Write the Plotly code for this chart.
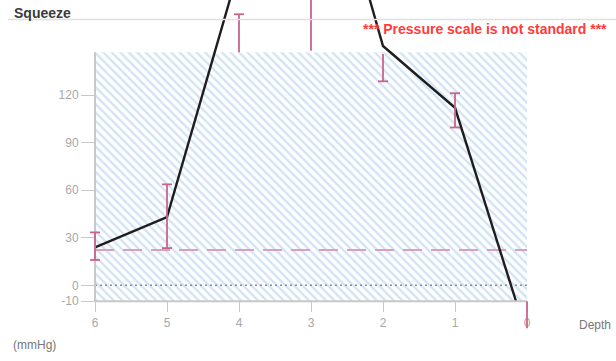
import plotly.graph_objects as go

# ---- data ----
depth = [6, 5, 4, 3, 2, 1, 0]
squeeze = [24, 43, 200, 310, 151, 112, -32]
range_low = [16, 23.5, 147, 148, 128.7, 99.6, -27]
range_high = [33.4, 63.7, 171, 200, 146, 121.2, -10]
cap_low = [True, True, False, False, True, True, False]
cap_high = [True, True, True, False, False, True, False]
threshold = 22.3
band_bottom = -10
band_top = 147
y_tickvals = [-10, 0, 30, 60, 90, 120]
x_tickvals = [6, 5, 4, 3, 2, 1, 0]

# ---- geometry (pixel calibration) ----
W, H = 616, 361
x6_px = 95.0
px_per_depth = 72.0
y0_px = 291.0
px_per_unit = 1.6167

x_range = [6 + x6_px / px_per_depth, 6 - (W - x6_px) / px_per_depth]
y2_range = [-(H - y0_px) / px_per_unit, y0_px / px_per_unit]
ybot_px = y0_px - band_bottom * px_per_unit
y_dom_bottom = (H - ybot_px) / H
y_range = [band_bottom, y0_px / px_per_unit]
cap_half = 5.0 / px_per_depth

fig = go.Figure()

# hatched normal band
fig.add_trace(go.Scatter(
    x=[depth[0], depth[-1], depth[-1], depth[0]],
    y=[band_bottom, band_bottom, band_top, band_top],
    mode="none", fill="toself", fillcolor="white",
    fillpattern=dict(shape="\\", fgcolor="#a6c8ea", bgcolor="white", size=6, solidity=0.4),
    hoverinfo="skip", showlegend=False, xaxis="x", yaxis="y"))

# dotted zero line
fig.add_trace(go.Scatter(
    x=[depth[0], depth[-1]], y=[0, 0], mode="lines",
    line=dict(color="#8c8c8c", width=1.5, dash="2px,3px"),
    hoverinfo="skip", showlegend=False, xaxis="x", yaxis="y"))

# dashed threshold
fig.add_trace(go.Scatter(
    x=[depth[0], depth[-1]], y=[threshold, threshold], mode="lines",
    line=dict(color="#d9a0c4", width=1.8, dash="19px,9px"),
    hoverinfo="skip", showlegend=False, xaxis="x", yaxis="y"))

# main squeeze line
fig.add_trace(go.Scatter(
    x=depth, y=squeeze, mode="lines",
    line=dict(color="#1e1e1e", width=2.4),
    hoverinfo="skip", showlegend=False, xaxis="x", yaxis="y"))

# axis lines (unclipped overlay subplot)
fig.add_trace(go.Scatter(
    x=[depth[0], depth[0], None, depth[0], depth[-1]],
    y=[band_top, band_bottom, None, band_bottom, band_bottom], mode="lines",
    line=dict(color="#c8c8c8", width=2),
    hoverinfo="skip", showlegend=False, xaxis="x2", yaxis="y2"))

# range bars
sx, sy = [], []
for d, lo, hi, cl, ch in zip(depth, range_low, range_high, cap_low, cap_high):
    sx += [d, d, None]
    sy += [lo, hi, None]
    if cl:
        sx += [d - cap_half, d + cap_half, None]
        sy += [lo, lo, None]
    if ch:
        sx += [d - cap_half, d + cap_half, None]
        sy += [hi, hi, None]
fig.add_trace(go.Scatter(
    x=sx, y=sy, mode="lines",
    line=dict(color="#c8648f", width=1.8),
    hoverinfo="skip", showlegend=False, xaxis="x2", yaxis="y2"))

tickfont = dict(family="Liberation Sans, Arial, sans-serif", size=12, color="#a8a8a8")

fig.update_layout(
    width=W, height=H, autosize=False,
    margin=dict(l=0, r=0, t=0, b=0),
    paper_bgcolor="white", plot_bgcolor="rgba(0,0,0,0)",
    font=dict(family="Liberation Sans, Arial, sans-serif"),
    xaxis=dict(domain=[0, 1], range=x_range, anchor="y", showgrid=False, zeroline=False,
               showline=False, ticks="outside", ticklen=10, tickwidth=1.2, tickcolor="#c8c8c8",
               tickvals=x_tickvals, ticktext=[str(v) for v in x_tickvals], tickfont=tickfont),
    yaxis=dict(domain=[y_dom_bottom, 1], range=y_range, anchor="free", position=x6_px / W,
               showgrid=False, zeroline=False, showline=False, ticks="outside", ticklen=14,
               tickwidth=1.2, tickcolor="#c8c8c8", tickvals=y_tickvals,
               ticktext=[str(v) for v in y_tickvals], tickfont=tickfont),
    xaxis2=dict(domain=[0, 1], range=x_range, anchor="y2", visible=False),
    yaxis2=dict(domain=[0, 1], range=y2_range, anchor="x2", visible=False),
    shapes=[dict(type="line", xref="paper", yref="paper", x0=8 / W, x1=1,
                 y0=1 - 20 / H, y1=1 - 20 / H, line=dict(color="#e0e0e0", width=1.5))],
    annotations=[
        dict(text="<b>Squeeze</b>", xref="paper", yref="paper", x=12 / W, y=1 - 13 / H,
             xanchor="left", yanchor="middle", showarrow=False,
             font=dict(size=14, color="#3a3a3a", family="Liberation Sans, Arial, sans-serif")),
        dict(text="<b>*** Pressure scale is not standard ***</b>", xref="paper", yref="paper",
             x=609 / W, y=1 - 30 / H, xanchor="right", yanchor="middle", showarrow=False,
             font=dict(size=14, color="#ff3b3b", family="Liberation Sans, Arial, sans-serif")),
        dict(text="Depth", xref="paper", yref="paper", x=577 / W, y=1 - 331 / H,
             xanchor="left", yanchor="middle", showarrow=False,
             font=dict(size=12, color="#777777")),
        dict(text="(mmHg)", xref="paper", yref="paper", x=11 / W, y=1 - 352 / H,
             xanchor="left", yanchor="middle", showarrow=False,
             font=dict(size=12, color="#777777")),
    ],
)

fig.write_html("out.html")
